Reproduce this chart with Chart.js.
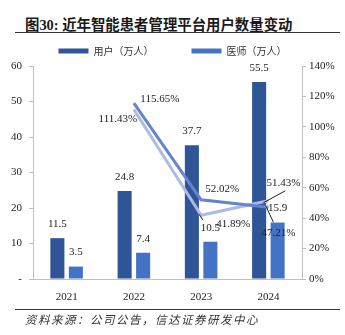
<!DOCTYPE html>
<html>
<head>
<meta charset="utf-8">
<script src="https://cdn.jsdelivr.net/npm/chart.js@4.4.1/dist/chart.umd.min.js"></script>
<style>
  body { margin: 0; background: #fff; width: 345px; height: 335px; overflow: hidden; position: relative;
         font-family: "Liberation Serif", "Noto Sans CJK SC", serif; }
  #title { position: absolute; left: 25px; top: 16px; font-size: 14.4px; font-weight: bold; color: #1a1a1a; white-space: nowrap; line-height: 18px; }
  .rule { position: absolute; left: 15px; width: 325px; height: 1px; background: #333; }
  #src { position: absolute; left: 25px; top: 312px; font-size: 11.5px; letter-spacing: 1.5px; font-style: italic;
         color: #333; white-space: nowrap; font-family: "Noto Sans CJK SC", sans-serif; line-height: 14px; }
  #wrap { position: absolute; left: 0; top: 0; width: 345px; height: 335px; }
</style>
</head>
<body>
<div id="title">图30: 近年智能患者管理平台用户数量变动</div>
<div class="rule" style="top:32px"></div>
<div id="wrap"><canvas id="chart"></canvas></div>
<div class="rule" style="top:309px"></div>
<div id="src">资料来源：公司公告，信达证券研发中心</div>

<script>
const years = ['2021', '2022', '2023', '2024'];
const users = [11.5, 24.8, 37.7, 55.5];          // 用户（万人）
const doctors = [3.5, 7.4, 10.5, 15.9];          // 医师（万人）
const userGrowth = [null, 115.65, 52.02, 47.21];  // 用户同比 %
const doctorGrowth = [null, 111.43, 41.89, 51.43];// 医师同比 %

// where each growth label sits relative to its point, plus optional leader line
const userGrowthLabels = [null,
  { dx: 26, dy: -4 },
  { dx: 21, dy: -11 },
  { dx: 10, dy: 26, leader: [-2, 0, 5, 15] }];
const doctorGrowthLabels = [null,
  { dx: -16, dy: 10 },
  { dx: 32, dy: 9, leader: [-2, -1, 2, 5] },
  { dx: 15, dy: -18, leader: [-5, 2, 17, -10] }];

const valueLabels = {
  id: 'valueLabels',
  afterDatasetsDraw(chart) {
    const ctx = chart.ctx;
    ctx.save();
    ctx.font = '11px "Liberation Serif"';
    ctx.fillStyle = '#222';
    ctx.strokeStyle = '#222';
    ctx.lineWidth = 1;
    ctx.textAlign = 'center';
    ctx.textBaseline = 'middle';
    chart.data.datasets.forEach((ds, i) => {
      const meta = chart.getDatasetMeta(i);
      meta.data.forEach((el, j) => {
        const v = ds.data[j];
        if (v == null) return;
        if (ds.type === 'line') {
          const p = ds.labelPos[j];
          if (p.leader) {
            const l = p.leader;
            ctx.beginPath();
            ctx.moveTo(el.x + l[0], el.y + l[1]);
            ctx.lineTo(el.x + l[2], el.y + l[3]);
            ctx.stroke();
          }
          ctx.fillText(v.toFixed(2) + '%', el.x + p.dx, el.y + p.dy);
        } else {
          ctx.fillText(v.toFixed(1), el.x, el.y - 14);
        }
      });
    });
    ctx.restore();
  }
};

const tickFont = { family: '"Liberation Serif"', size: 11 };

new Chart(document.getElementById('chart'), {
  type: 'bar',
  data: {
    labels: years,
    datasets: [
      { type: 'line', label: '用户同比', data: userGrowth, yAxisID: 'y1', order: 0,
        borderColor: '#6583cf', borderWidth: 3, pointRadius: 0, tension: 0, labelPos: userGrowthLabels },
      { type: 'line', label: '医师同比', data: doctorGrowth, yAxisID: 'y1', order: 0,
        borderColor: '#abbbe3', borderWidth: 3, pointRadius: 0, tension: 0, labelPos: doctorGrowthLabels },
      { label: '用户（万人）', data: users, yAxisID: 'y', order: 1,
        backgroundColor: '#2f5597', categoryPercentage: 0.55, barPercentage: 0.76 },
      { label: '医师（万人）', data: doctors, yAxisID: 'y', order: 1,
        backgroundColor: '#4472c4', categoryPercentage: 0.55, barPercentage: 0.76 }
    ]
  },
  options: {
    responsive: true,
    maintainAspectRatio: false,
    animation: false,
    layout: { padding: { top: 8, bottom: 32, left: 0, right: 0 } },
    plugins: {
      legend: {
        position: 'top',
        labels: {
          filter: item => item.datasetIndex >= 2,
          boxWidth: 30,
          boxHeight: 5,
          padding: 38,
          color: '#333',
          font: { family: '"Noto Sans CJK SC"', size: 10 }
        }
      },
      tooltip: { enabled: false }
    },
    scales: {
      x: {
        grid: { display: false },
        border: { color: '#bfbfbf' },
        ticks: { color: '#222', font: tickFont, padding: 4 },
        afterFit: s => { s.height = 24; }
      },
      y: {
        position: 'left',
        min: 0, max: 60,
        ticks: { stepSize: 10, color: '#222', font: tickFont, padding: 7,
                 callback: v => v === 0 ? '-' : v },
        grid: { drawOnChartArea: false, tickLength: 4, color: '#bfbfbf' },
        border: { color: '#bfbfbf' },
        afterFit: s => { s.width = 33; }
      },
      y1: {
        position: 'right',
        min: 0, max: 140,
        ticks: { stepSize: 20, color: '#222', font: tickFont, padding: 3,
                 callback: v => v + '%' },
        grid: { drawOnChartArea: false, tickLength: 4, color: '#bfbfbf' },
        border: { color: '#bfbfbf' },
        afterFit: s => { s.width = 43; }
      }
    }
  },
  plugins: [valueLabels]
});
</script>
</body>
</html>
